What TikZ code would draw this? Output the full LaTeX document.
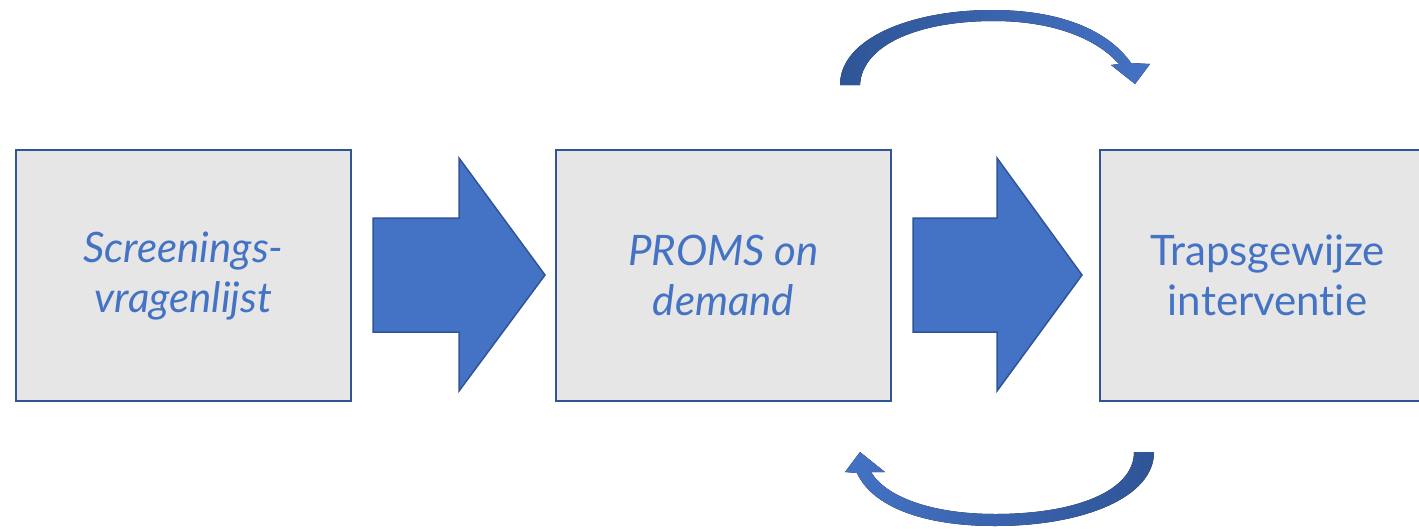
\documentclass[tikz,border=0pt]{standalone}
\usepackage{fontspec}
\setmainfont{Lato}[Ligatures=NoCommon]
\usetikzlibrary{positioning}

\definecolor{boxfill}{HTML}{E6E6E6}
\definecolor{darkblue}{HTML}{2F5597}
\definecolor{midblue}{HTML}{4472C4}

\tikzset{
  stagebox/.style={draw=darkblue, line width=2pt, fill=boxfill,
    minimum width=335pt, minimum height=251pt, align=center,
    text=midblue, font=\fontsize{42}{50}\selectfont},
  fatarrow/.style={draw=darkblue, line width=1.5pt, fill=midblue, line join=miter},
  bendarrow/.style={draw=none}
}

\begin{document}
\begin{tikzpicture}[x=1pt, y=-1pt]
    \useasboundingbox (0,0) rectangle (1419,528);
    \clip (0,0) rectangle (1419,528);
    % Draw boxes
    \node[stagebox] (screen) at (183.5,275.5) {\itshape Screenings-\\\itshape vragenlijst};
    \node[stagebox, right=203pt of screen] (proms) {\itshape PROMS on\\\itshape demand};
    \node[stagebox, right=207pt of proms] (interv) {Trapsgewijze\\interventie};
    % Draw big arrows
    % Screening to PROMS
    \draw[fatarrow] (373,218) -- (459,218) -- (459,158) -- (545,275) -- (459,391) -- (459,332) -- (373,332) -- cycle;
    % PROMS to intervention
    \draw[fatarrow] (913,218) -- (997,218) -- (997,158) -- (1082,275) -- (997,391) -- (997,332) -- (913,332) -- cycle;
    % Draw loop arrows
    % Upper
    \fill[bendarrow, left color=darkblue, right color=midblue] (840,85) .. controls (840,38) and (912,10) .. (992,10)
        .. controls (1060,10) and (1108,30) .. (1131,63) -- (1150,64) -- (1135,84) -- (1111,65)
        -- (1119,64) .. controls (1096,38) and (1052,21) .. (994,21)
        .. controls (918,21) and (862,45) .. (860,85) -- cycle;
    % Lower
    \fill[bendarrow, left color=midblue, right color=darkblue] (1154,452) .. controls (1154,498) and (1082,526) .. (995,526)
        .. controls (922,526) and (872,506) .. (857,473) -- (845,472) -- (860,452) -- (885,472)
        -- (871,472) .. controls (886,497) and (932,514) .. (995,514)
        .. controls (1078,514) and (1134,490) .. (1134,452) -- cycle;
\end{tikzpicture}
\end{document}
